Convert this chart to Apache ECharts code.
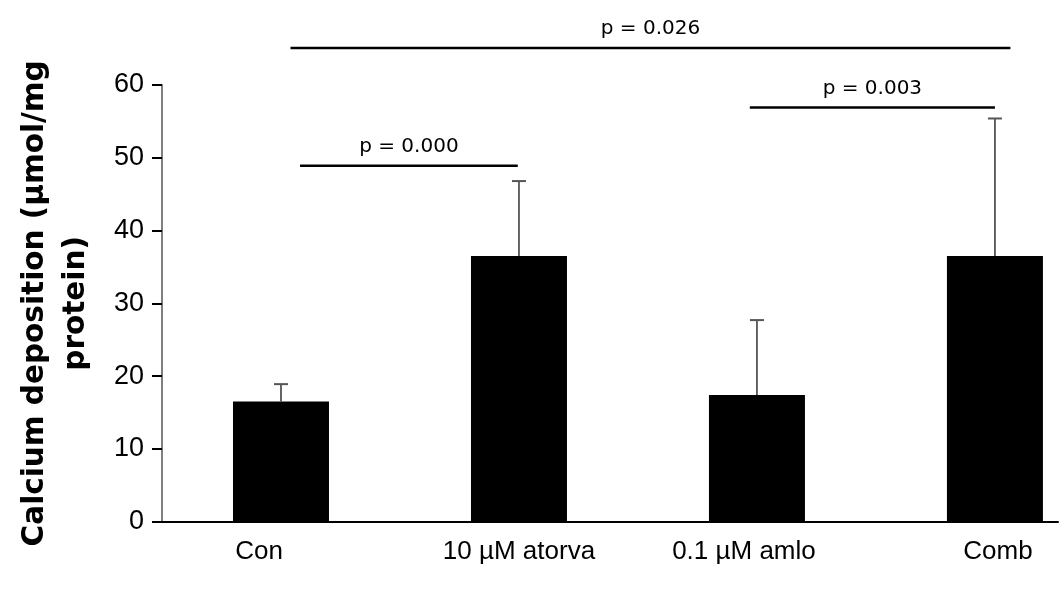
<!DOCTYPE html>
<html>
<head>
<meta charset="utf-8">
<script src="https://cdn.jsdelivr.net/npm/echarts@6/dist/echarts.min.js"></script>
<style>html,body{margin:0;padding:0;background:#fff}#c{width:1059px;height:590px}</style>
</head>
<body>
<div id="c"></div>
<script>
// ---- data ----
var categories = ['Con', '10 µM atorva', '0.1 µM amlo', 'Comb'];
var means = [16.5, 36.5, 17.4, 36.5];
var upperErr = [18.9, 46.8, 27.7, 55.4];
var yTicks = [0, 10, 20, 30, 40, 50, 60];
// significance brackets (in category-position units): start, end, level, label
var sigStart = [0.08, 1.97, 0.04];
var sigEnd = [0.995, 3.0, 3.065];
var sigLevel = [48.9, 56.9, 65.1];
var sigLabel = ['p = 0.000', 'p = 0.003', 'p = 0.026'];

// label horizontal nudges (style, px)
var labelPad = [[0, 44, 0, 0], [0, 0, 0, 0], [0, 26, 0, 0], [0, 0, 0, 6]];

var catPos = categories.map(function (c, i) { return i; });
var barData = categories.map(function (c, i) { return [i, means[i]]; });
var errData = categories.map(function (c, i) { return [i, means[i], upperErr[i]]; });
var sigData = sigLabel.map(function (l, i) { return [sigStart[i], sigEnd[i], sigLevel[i]]; });

var rich = {};
labelPad.forEach(function (p, i) {
  rich['s' + i] = { padding: p, color: '#000', fontSize: 26, fontFamily: '"Liberation Sans", Arial, sans-serif' };
});

var chart = echarts.init(document.getElementById('c'));
chart.setOption({
  animation: false,
  backgroundColor: '#fff',
  grid: { left: 162, top: 85, right: 1, height: 436.7, containLabel: false },
  xAxis: {
    type: 'value',
    min: -0.5,
    max: 3.265,
    axisLine: { show: true, onZero: false, lineStyle: { color: '#000', width: 2 } },
    axisTick: { show: false },
    axisLabel: {
      customValues: catPos,
      formatter: function (v) { var i = Math.round(v); return '{s' + i + '|' + categories[i] + '}'; },
      rich: rich,
      color: '#000', fontSize: 26, fontFamily: '"Liberation Sans", Arial, sans-serif', margin: 17
    },
    splitLine: { show: false }
  },
  yAxis: {
    type: 'value',
    min: yTicks[0], max: yTicks[yTicks.length - 1], interval: 10,
    axisLine: { show: true, onZero: false, lineStyle: { color: '#7f7f7f', width: 2 } },
    axisTick: { show: true, inside: false, length: 10, lineStyle: { color: '#000', width: 2 } },
    axisLabel: { color: '#000', fontSize: 27, fontFamily: '"Liberation Sans", Arial, sans-serif', margin: 18 },
    splitLine: { show: false },
    name: 'Calcium deposition (μmol/mg\nprotein)',
    nameLocation: 'middle',
    nameRotate: 90,
    nameGap: 65,
    nameTextStyle: { color: '#000', fontSize: 29.5, fontWeight: 'bold', fontFamily: '"DejaVu Sans", sans-serif', lineHeight: 41 }
  },
  series: [{
    type: 'bar',
    data: barData,
    barWidth: 96,
    itemStyle: { color: '#000' },
    z: 2
  }, {
    type: 'custom',
    data: errData,
    z: 3,
    renderItem: function (params, api) {
      var x = api.value(0);
      var p0 = api.coord([x, api.value(1)]);
      var p1 = api.coord([x, api.value(2)]);
      var half = 7;
      return {
        type: 'group',
        children: [
          { type: 'line', shape: { x1: p0[0], y1: p0[1], x2: p1[0], y2: p1[1] }, style: { stroke: '#333', lineWidth: 1.5 } },
          { type: 'line', shape: { x1: p1[0] - half, y1: p1[1], x2: p1[0] + half, y2: p1[1] }, style: { stroke: '#555', lineWidth: 2 } }
        ]
      };
    }
  }, {
    type: 'custom',
    data: sigData,
    clip: false,
    z: 4,
    renderItem: function (params, api) {
      var a = api.coord([api.value(0), api.value(2)]);
      var b = api.coord([api.value(1), api.value(2)]);
      var label = sigLabel[params.dataIndex];
      return {
        type: 'group',
        children: [
          { type: 'line', shape: { x1: a[0], y1: a[1], x2: b[0], y2: b[1] }, style: { stroke: '#000', lineWidth: 2.5 } },
          { type: 'text', style: { text: label, x: (a[0] + b[0]) / 2, y: a[1] - 9, align: 'center', verticalAlign: 'bottom', fill: '#000', fontSize: 20, fontFamily: '"DejaVu Sans", sans-serif' } }
        ]
      };
    }
  }]
});
</script>
</body>
</html>
